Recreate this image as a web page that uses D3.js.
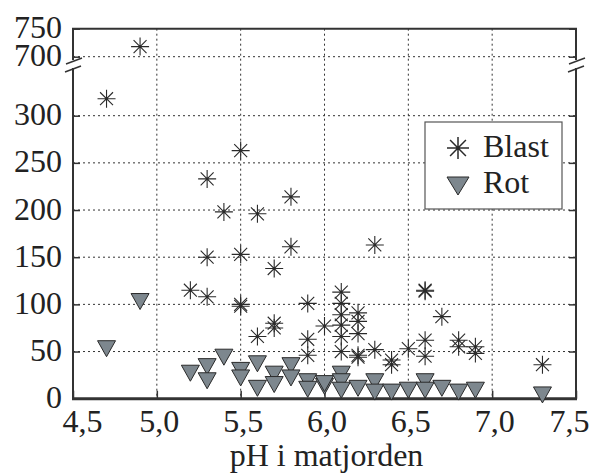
<!DOCTYPE html>
<html>
<head>
<meta charset="utf-8">
<title>Blast og rot mot pH</title>
<script src="https://cdn.jsdelivr.net/npm/d3@7"></script>
<style>
  body { margin: 0; background: #fff; }
  svg text { font-family: "Liberation Serif", "Times New Roman", serif; fill: #222; }
</style>
</head>
<body>
<script>
// data: [pH, value]
var blast = [
  [4.7,318],[4.9,718],[5.2,115],[5.3,233],[5.3,150],[5.3,108],[5.4,198],
  [5.5,263],[5.5,153],[5.5,100],[5.5,98],[5.6,196],[5.6,66],[5.7,138],
  [5.7,80],[5.7,75],[5.8,214],[5.8,161],[5.9,101],[5.9,63],[5.9,46],
  [6.0,77],[6.1,113],[6.1,101],[6.1,89],[6.1,78],[6.1,66],[6.1,50],
  [6.2,91],[6.2,82],[6.2,69],[6.2,46],[6.2,44],[6.3,163],[6.3,52],
  [6.4,41],[6.4,36],[6.5,53],[6.6,115],[6.6,114],[6.6,62],[6.6,45],
  [6.7,87],[6.8,62],[6.8,55],[6.9,55],[6.9,48],[7.3,36]
];
var rot = [
  [4.7,53],[4.9,103],[5.2,27],[5.3,34],[5.3,19],[5.4,44],[5.5,30],[5.5,22],
  [5.6,37],[5.6,11],[5.7,26],[5.7,15],[5.8,35],[5.8,22],[5.9,18],[5.9,10],
  [6.0,13],[6.0,16],[6.1,26],[6.1,18],[6.1,9],[6.2,11],[6.3,18],[6.3,7],
  [6.4,7],[6.5,9],[6.6,18],[6.6,9],[6.7,11],[6.8,7],[6.9,9],[7.3,4]
];
var xTicks = [4.5, 5.0, 5.5, 6.0, 6.5, 7.0, 7.5];
var yTicksLow = [0, 50, 100, 150, 200, 250, 300];
var yTicksHigh = [700, 750];
var seriesNames = ["Blast", "Rot"];

var width = 602, height = 475;
var mLeft = 73, mRight = 576, mTop = 28.7, mBottom = 398.7;
var breakTop = 60, breakBottom = 68;

var svg = d3.select("body").append("svg")
  .attr("width", width).attr("height", height);

var x = d3.scaleLinear().domain([4.5, 7.5]).range([mLeft, mRight]);
var yLow = d3.scaleLinear().domain([0, 300]).range([mBottom, 115.7]);
var yHigh = d3.scaleLinear().domain([700, 750]).range([56.7, mTop]);
var y = function (v) { return v >= 500 ? yHigh(v) : yLow(v); };

var fmt = function (d) { return d3.format(".1f")(d).replace(".", ","); };

// grid
var grid = svg.append("g").attr("stroke", "#333").attr("stroke-width", 1)
  .attr("stroke-dasharray", "2,3");
grid.selectAll(".gx").data(xTicks.slice(1, -1)).enter().append("line")
  .attr("x1", function (d) { return x(d); }).attr("x2", function (d) { return x(d); })
  .attr("y1", mTop).attr("y2", mBottom);
grid.selectAll(".gy").data(yTicksLow.slice(1)).enter().append("line")
  .attr("x1", mLeft).attr("x2", mRight)
  .attr("y1", function (d) { return yLow(d); }).attr("y2", function (d) { return yLow(d); });
grid.append("line").attr("x1", mLeft).attr("x2", mRight)
  .attr("y1", yHigh(700)).attr("y2", yHigh(700));

// axes
function styleAxis(g) {
  g.select(".domain").remove();
  g.selectAll(".tick line").attr("stroke", "#333").attr("stroke-width", 1.5);
  g.selectAll(".tick text").attr("font-family", "Liberation Serif, serif")
    .attr("font-size", 32).attr("fill", "#222");
}

var xAxis = svg.append("g")
  .attr("transform", "translate(0," + mBottom + ")")
  .call(d3.axisBottom(x).tickValues(xTicks).tickFormat(fmt).tickSize(-8).tickPadding(11))
  .call(styleAxis);
xAxis.selectAll(".tick text").attr("dx", function (d) {
  return d == 4.5 ? 9 : d == 7.5 ? -7 : 2;
});

svg.append("g")
  .attr("transform", "translate(" + mLeft + ",0)")
  .call(d3.axisLeft(yLow).tickValues(yTicksLow).tickSize(-7).tickPadding(11))
  .call(styleAxis)
  .selectAll(".tick text").attr("dy", "0.28em");
svg.append("g")
  .attr("transform", "translate(" + mLeft + ",0)")
  .call(d3.axisLeft(yHigh).tickValues(yTicksHigh).tickSize(-7).tickPadding(11))
  .call(styleAxis)
  .selectAll(".tick text").attr("dy", "0.28em");
svg.append("g")
  .attr("transform", "translate(" + mRight + ",0)")
  .call(d3.axisRight(yLow).tickValues(yTicksLow.slice(1)).tickSize(-7).tickFormat(""))
  .call(styleAxis);
svg.append("g")
  .attr("transform", "translate(" + mRight + ",0)")
  .call(d3.axisRight(yHigh).tickValues(yTicksHigh).tickSize(-7).tickFormat(""))
  .call(styleAxis);

// frame with break
var frame = svg.append("g").attr("stroke", "#333").attr("fill", "none");
frame.append("line").attr("x1", mLeft - 1).attr("x2", mRight + 1)
  .attr("y1", mTop).attr("y2", mTop).attr("stroke-width", 2);
frame.append("line").attr("x1", mLeft - 1).attr("x2", mRight + 1)
  .attr("y1", mBottom).attr("y2", mBottom).attr("stroke-width", 3);
[mLeft, mRight].forEach(function (px) {
  frame.append("line").attr("x1", px).attr("x2", px)
    .attr("y1", mTop).attr("y2", breakTop).attr("stroke-width", 2);
  frame.append("line").attr("x1", px).attr("x2", px)
    .attr("y1", breakBottom).attr("y2", mBottom).attr("stroke-width", 2);
  frame.append("line").attr("x1", px - 7).attr("x2", px + 9)
    .attr("y1", breakTop + 4).attr("y2", breakTop - 2).attr("stroke-width", 1.6);
  frame.append("line").attr("x1", px - 8).attr("x2", px + 8)
    .attr("y1", breakBottom + 4).attr("y2", breakBottom - 2).attr("stroke-width", 1.6);
});

// markers
function star(r) {
  var d = r * 0.72;
  return "M" + (-r) + ",0H" + r + "M0," + (-r) + "V" + r +
    "M" + (-d) + "," + (-d) + "L" + d + "," + d +
    "M" + (-d) + "," + d + "L" + d + "," + (-d);
}
function tri(w, h) {
  return "M" + (-w / 2) + "," + (-h / 2) + "L" + (w / 2) + "," + (-h / 2) + "L0," + (h / 2) + "Z";
}

svg.append("g").selectAll("path").data(blast).enter().append("path")
  .attr("transform", function (d) { return "translate(" + x(d[0]) + "," + y(d[1]) + ")"; })
  .attr("d", star(9))
  .attr("stroke", "#2a2a2a").attr("stroke-width", 1.1).attr("fill", "none");

svg.append("g").selectAll("path").data(rot).enter().append("path")
  .attr("transform", function (d) { return "translate(" + x(d[0]) + "," + y(d[1]) + ")"; })
  .attr("d", tri(18, 16))
  .attr("fill", "#7d878e").attr("stroke", "#2a2a2a").attr("stroke-width", 1);

// legend
var legend = svg.append("g");
legend.append("rect").attr("x", 425).attr("y", 122).attr("width", 137).attr("height", 87)
  .attr("fill", "#fff").attr("stroke", "#555").attr("stroke-width", 1.2);
legend.append("path").attr("transform", "translate(458,148)")
  .attr("d", star(11)).attr("stroke", "#2a2a2a").attr("stroke-width", 1.5).attr("fill", "none");
legend.append("path").attr("transform", "translate(458,186)")
  .attr("d", tri(22, 18)).attr("fill", "#7d878e").attr("stroke", "#2a2a2a").attr("stroke-width", 1);
legend.selectAll("text").data(seriesNames).enter().append("text")
  .attr("x", 483).attr("y", function (d, i) { return i == 0 ? 157 : 193; })
  .attr("font-size", 32).text(function (d) { return d; });

// axis title
svg.append("text").attr("x", (mLeft + mRight) / 2 + 2).attr("y", 466)
  .attr("text-anchor", "middle").attr("font-size", 32).text("pH i matjorden");
</script>
</body>
</html>
